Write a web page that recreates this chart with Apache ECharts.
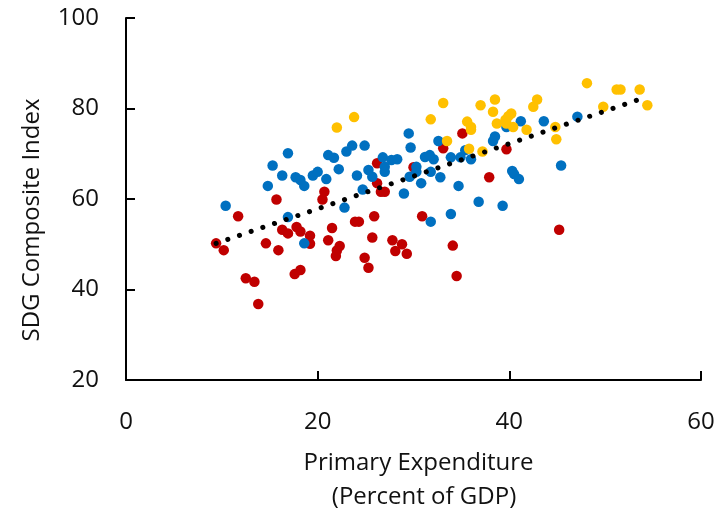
<!DOCTYPE html>
<html>
<head>
<meta charset="utf-8">
<script src="https://cdn.jsdelivr.net/npm/echarts@6/dist/echarts.min.js"></script>
<style>
html,body{margin:0;padding:0;background:#fff;}
#chart{width:725px;height:513px;}
</style>
</head>
<body>
<div id="chart"></div>
<script>
// Red group [primary expenditure % GDP, SDG index]
const redPoints = [[9.4,50.2],[10.2,48.7],[11.7,56.2],[12.5,42.5],[13.4,41.7],[13.8,36.8],[14.6,50.2],[15.7,59.9],[15.9,48.7],[16.3,53.2],[16.9,52.4],[17.6,43.4],[18.2,44.3],[17.8,53.8],[18.2,52.8],[19.2,51.9],[19.2,50.1],[20.5,59.9],[20.7,61.6],[21.5,53.6],[21.1,50.9],[22.3,49.6],[22.0,48.6],[21.9,47.4],[23.9,55.0],[24.3,55.0],[25.9,56.2],[25.7,51.5],[24.9,47.0],[25.3,44.8],[26.2,67.9],[26.2,63.5],[26.6,61.6],[27.0,61.6],[27.8,50.9],[28.8,50.0],[28.1,48.5],[29.3,47.9],[30.0,67.0],[30.9,56.2],[33.1,71.2],[34.1,49.7],[34.5,43.0],[35.1,74.5],[37.9,64.8],[39.7,71.0],[45.2,53.2]];
// Blue group
const bluePoints = [[10.4,58.5],[14.8,62.9],[15.3,67.4],[16.3,65.2],[16.9,70.1],[16.9,56.0],[17.7,64.8],[18.2,64.2],[18.6,62.9],[18.6,50.2],[19.5,65.2],[20.0,66.0],[20.9,64.4],[21.1,69.7],[21.7,69.1],[22.2,66.6],[22.8,58.1],[23.0,70.5],[23.6,71.8],[24.9,71.8],[24.1,65.2],[25.3,66.4],[25.7,64.9],[24.7,62.1],[26.8,69.2],[27.0,67.1],[27.0,66.0],[27.7,68.6],[28.3,68.8],[29.0,61.2],[29.5,74.5],[29.7,71.4],[30.3,67.1],[30.3,66.0],[29.6,64.9],[30.8,63.5],[31.2,69.3],[31.7,69.7],[32.1,68.8],[31.8,66.0],[31.8,55.0],[32.6,72.8],[32.8,64.8],[33.9,56.7],[33.9,69.2],[34.9,69.2],[34.7,62.9],[35.4,70.8],[36.0,68.8],[36.8,59.4],[38.5,73.8],[38.3,72.8],[39.3,58.5],[39.7,75.9],[40.3,66.2],[40.5,65.5],[41.0,64.4],[41.2,77.2],[43.6,77.2],[45.4,67.4],[47.1,78.2]];
// Orange group
const orangePoints = [[22.0,75.8],[23.8,78.1],[31.8,77.6],[33.1,81.2],[33.5,72.8],[35.6,77.1],[36.0,75.9],[36.0,75.3],[35.8,71.1],[37.0,80.7],[37.2,70.5],[38.5,82.0],[38.3,79.3],[38.7,76.7],[39.6,77.5],[39.9,78.3],[40.2,78.9],[39.7,76.7],[40.4,75.9],[41.8,75.3],[42.5,80.4],[42.9,82.0],[44.8,75.9],[44.9,73.2],[48.1,85.6],[49.8,80.4],[51.2,84.2],[51.6,84.2],[53.6,84.2],[54.4,80.7]];
// Linear trend endpoints
const trendPoints = [[9.4,50.2],[53.4,81.9]];
const xTicks = [0,20,40,60];
const yTicks = [20,40,60,80,100];
const xTitle1 = 'Primary Expenditure';
const xTitle2 = '(Percent of GDP)';
const yTitle = 'SDG Composite Index';

const FONT = "'Open Sans', sans-serif";
const chart = echarts.init(document.getElementById('chart'), null, {renderer:'canvas'});
const axisCommon = {
  axisLine:{show:true,lineStyle:{color:'#000',width:2}},
  axisTick:{show:true,inside:true,length:9,lineStyle:{color:'#000',width:2}},
  splitLine:{show:false},
  axisLabel:{color:'#111',fontSize:24,fontFamily:FONT}
};
chart.setOption({
  animation:false,
  backgroundColor:'#fff',
  grid:{left:126,right:24,top:18,bottom:133,containLabel:false},
  xAxis:Object.assign({type:'value',min:xTicks[0],max:xTicks[xTicks.length-1],interval:20},axisCommon,
    {axisLabel:Object.assign({},axisCommon.axisLabel,{margin:30})}),
  yAxis:Object.assign({type:'value',min:yTicks[0],max:yTicks[yTicks.length-1],interval:20},axisCommon,
    {axisLabel:Object.assign({},axisCommon.axisLabel,{margin:27})}),
  series:[
    {type:'scatter',data:redPoints,symbolSize:10.5,itemStyle:{color:'#C00000',opacity:1},z:2},
    {type:'scatter',data:bluePoints,symbolSize:10.5,itemStyle:{color:'#0070C0',opacity:1},z:3},
    {type:'scatter',data:orangePoints,symbolSize:10.5,itemStyle:{color:'#FFC000',opacity:1},z:4},
    {type:'line',data:trendPoints,symbol:'none',z:10,
     lineStyle:{color:'#000',width:5,type:[0.1,12.23],cap:'round'}}
  ],
  graphic:[
    {type:'text',x:418.5,y:463,style:{text:xTitle1,font:'24px '+FONT,fill:'#111',align:'center',verticalAlign:'middle'}},
    {type:'text',x:424,y:497,style:{text:xTitle2,font:'24px '+FONT,fill:'#111',align:'center',verticalAlign:'middle'}},
    {type:'text',x:32,y:220,rotation:Math.PI/2,style:{text:yTitle,font:'24px '+FONT,fill:'#111',align:'center',verticalAlign:'middle'}}
  ]
});
</script>
</body>
</html>
